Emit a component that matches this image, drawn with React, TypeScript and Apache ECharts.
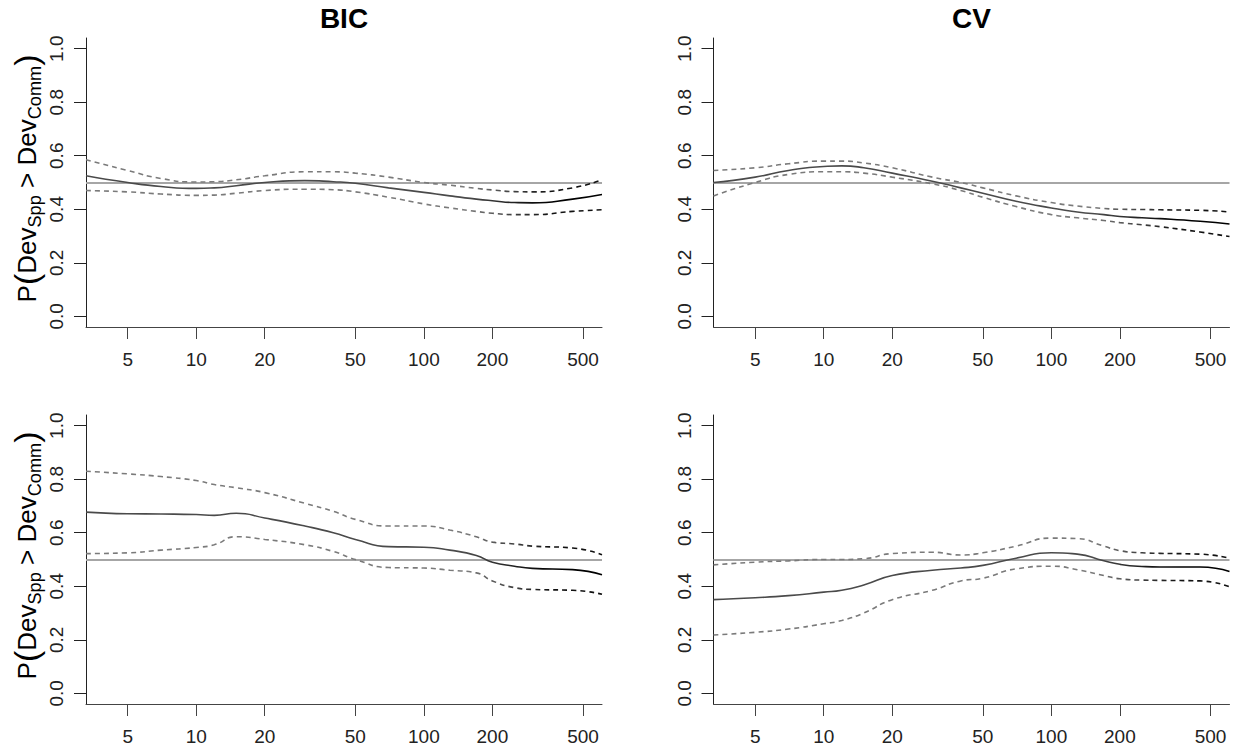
import React, { useEffect, useRef } from "react";
import * as echarts from "echarts";

// ---------- data ----------
const X_MIN = 3.28;
const X_MAX = 606;
const xs = [3.28, 5, 7, 10, 12, 15, 20, 30, 40, 50, 70, 100, 130, 170, 200, 250, 300, 450, 606];
const xTicks = [5, 10, 20, 50, 100, 200, 500];
const yTicks = [0, 0.2, 0.4, 0.6, 0.8, 1.0];
const REF = 0.5;

const bicTopMean = [0.525, 0.5, 0.485, 0.478, 0.48, 0.488, 0.5, 0.507, 0.503, 0.497, 0.48, 0.463, 0.45, 0.438, 0.432, 0.425, 0.424, 0.438, 0.455];
const bicTopUpper = [0.585, 0.545, 0.515, 0.502, 0.503, 0.51, 0.525, 0.54, 0.54, 0.535, 0.52, 0.5, 0.49, 0.478, 0.472, 0.466, 0.465, 0.48, 0.51];
const bicTopLower = [0.47, 0.465, 0.457, 0.452, 0.453, 0.46, 0.47, 0.475, 0.473, 0.465, 0.445, 0.42, 0.405, 0.392, 0.385, 0.38, 0.38, 0.392, 0.398];

const cvTopMean = [0.5, 0.52, 0.545, 0.56, 0.562, 0.555, 0.535, 0.505, 0.48, 0.46, 0.43, 0.405, 0.39, 0.38, 0.373, 0.368, 0.365, 0.355, 0.345];
const cvTopUpper = [0.545, 0.555, 0.57, 0.58, 0.58, 0.573, 0.555, 0.52, 0.5, 0.48, 0.45, 0.425, 0.412, 0.403, 0.4, 0.399, 0.398, 0.396, 0.39];
const cvTopLower = [0.45, 0.5, 0.53, 0.54, 0.54, 0.535, 0.52, 0.495, 0.47, 0.445, 0.41, 0.38, 0.368, 0.358, 0.35, 0.342, 0.335, 0.315, 0.298];

const bicBotMean = [0.677, 0.671, 0.67, 0.668, 0.665, 0.673, 0.655, 0.625, 0.6, 0.575, 0.548, 0.546, 0.535, 0.515, 0.49, 0.475, 0.467, 0.462, 0.443];
const bicBotUpper = [0.83, 0.82, 0.81, 0.795, 0.78, 0.768, 0.75, 0.71, 0.68, 0.65, 0.625, 0.625, 0.61, 0.585, 0.565, 0.558, 0.55, 0.543, 0.518];
const bicBotLower = [0.522, 0.525, 0.535, 0.545, 0.555, 0.585, 0.575, 0.555, 0.53, 0.5, 0.47, 0.468, 0.46, 0.45, 0.42, 0.395, 0.388, 0.385, 0.37];

const cvBotMean = [0.35, 0.357, 0.365, 0.378, 0.385, 0.405, 0.44, 0.46, 0.468, 0.478, 0.505, 0.525, 0.52, 0.495, 0.482, 0.474, 0.472, 0.472, 0.455];
const cvBotUpper = [0.48, 0.49, 0.495, 0.5, 0.5, 0.503, 0.522, 0.527, 0.517, 0.525, 0.55, 0.58, 0.578, 0.55, 0.533, 0.525, 0.523, 0.52, 0.505];
const cvBotLower = [0.218, 0.228, 0.24, 0.26, 0.272, 0.3, 0.35, 0.385, 0.42, 0.43, 0.465, 0.475, 0.462, 0.44, 0.428, 0.423, 0.422, 0.42, 0.398];

const titles = ["BIC", "CV"];

// ---------- layout ----------
const FONT = '"Liberation Sans", Arial, Helvetica, sans-serif';
const GRID_W = 516;
const GRID_H = 289;
const panels = [
  { left: 86, top: 38, mean: bicTopMean, upper: bicTopUpper, lower: bicTopLower, title: titles[0], ylab: true },
  { left: 713.5, top: 38, mean: cvTopMean, upper: cvTopUpper, lower: cvTopLower, title: titles[1], ylab: false },
  { left: 86, top: 415, mean: bicBotMean, upper: bicBotUpper, lower: bicBotLower, title: null, ylab: true },
  { left: 713.5, top: 415, mean: cvBotMean, upper: cvBotUpper, lower: cvBotLower, title: null, ylab: false },
];

const lg = (v: number) => Math.log10(v);

function measure(text: string, size: number): number {
  const c = document.createElement("canvas").getContext("2d");
  if (!c) return text.length * size * 0.55;
  c.font = `${size}px ${FONT}`;
  return c.measureText(text).width;
}

function yTitle(cx: number, cy: number) {
  const F = 26;
  const pieces = [
    { t: "P", s: F, dy: 0 },
    { t: "(", s: F * 1.3, dy: -1 },
    { t: "Dev", s: F, dy: 0 },
    { t: "Spp", s: F * 0.7, dy: F * 0.32 },
    { t: " > ", s: F, dy: 0 },
    { t: "Dev", s: F, dy: 0 },
    { t: "Comm", s: F * 0.7, dy: F * 0.32 },
    { t: ")", s: F * 1.3, dy: -1 },
  ];
  const widths = pieces.map((p) => measure(p.t, p.s));
  const total = widths.reduce((a, b) => a + b, 0);
  let cur = -total / 2;
  const children = pieces.map((p, i) => {
    const el = {
      type: "text",
      x: cur,
      y: p.dy,
      style: {
        text: p.t,
        font: `${p.s}px ${FONT}`,
        fill: "#000",
        textAlign: "left",
        align: "left",
        textVerticalAlign: "middle",
        verticalAlign: "middle",
      },
    };
    cur += widths[i];
    return el;
  });
  return { type: "group", x: cx, y: cy, rotation: Math.PI / 2, children };
}

function grad(from: string, to: string) {
  return new echarts.graphic.LinearGradient(0, 0, 1, 0, [
    { offset: 0, color: from },
    { offset: 0.74, color: from },
    { offset: 0.9, color: to },
    { offset: 1, color: to },
  ]);
}

export default function App() {
  const ref = useRef<HTMLDivElement>(null);
  useEffect(() => {
    if (!ref.current) return;
    const chart = echarts.init(ref.current, undefined, { renderer: "svg" });

    const grids = panels.map((p) => ({
      left: p.left,
      top: p.top,
      width: GRID_W,
      height: GRID_H,
      containLabel: false,
      outerBoundsMode: "none",
    }));

    const xAxes = panels.map((_, i) => ({
      gridIndex: i,
      type: "value",
      min: lg(X_MIN),
      max: lg(X_MAX),
      axisLine: { show: true, onZero: false, lineStyle: { color: "#444", width: 1 } },
      axisTick: { show: true, length: 12, customValues: xTicks.map(lg), lineStyle: { color: "#444", width: 1 } },
      axisLabel: {
        show: true,
        customValues: xTicks.map(lg),
        formatter: (v: number) => String(Math.round(Math.pow(10, v))),
        fontSize: 19,
        fontFamily: FONT,
        color: "#222",
        margin: 23,
      },
      splitLine: { show: false },
    }));

    const yAxes = panels.map((_, i) => ({
      gridIndex: i,
      type: "value",
      min: -0.04,
      max: 1.04,
      axisLine: { show: true, onZero: false, lineStyle: { color: "#222", width: 1 } },
      axisTick: { show: true, length: 12, customValues: yTicks, lineStyle: { color: "#222", width: 1 } },
      axisLabel: {
        show: true,
        customValues: yTicks,
        rotate: 90,
        formatter: (v: number) => v.toFixed(1),
        fontSize: 19,
        fontFamily: FONT,
        color: "#222",
        margin: 20,
      },
      splitLine: { show: false },
    }));

    const series: any[] = [];
    panels.forEach((p, i) => {
      const mk = (arr: number[]) => xs.map((x, j) => [lg(x), arr[j]]);
      series.push({
        type: "line",
        xAxisIndex: i,
        yAxisIndex: i,
        data: mk(p.mean),
        smooth: 0.55,
        symbol: "none",
        z: 3,
        lineStyle: { color: grad("#4a4a4a", "#000"), width: 1.6, type: "solid" },
        markLine: {
          silent: true,
          symbol: "none",
          z: 1,
          label: { show: false },
          lineStyle: { color: "#a6a6a6", width: 2.2, type: "solid" },
          data: [{ yAxis: REF }],
        },
      });
      [p.upper, p.lower].forEach((arr) => {
        series.push({
          type: "line",
          xAxisIndex: i,
          yAxisIndex: i,
          data: mk(arr),
          smooth: 0.55,
          symbol: "none",
          z: 3,
          lineStyle: { color: grad("#7a7a7a", "#111"), width: 1.6, type: [5, 4] },
        });
      });
    });

    const graphics: any[] = [];
    panels.forEach((p) => {
      if (p.title) {
        graphics.push({
          type: "text",
          x: p.left + GRID_W / 2,
          y: 18,
          style: {
            text: p.title,
            font: `bold 28px ${FONT}`,
            fill: "#000",
            textAlign: "center",
            align: "center",
            textVerticalAlign: "middle",
            verticalAlign: "middle",
          },
        });
      }
      if (p.ylab) graphics.push(yTitle(27, p.top + GRID_H / 2 - 4));
    });

    chart.setOption({
      animation: false,
      backgroundColor: "#fff",
      grid: grids,
      xAxis: xAxes,
      yAxis: yAxes,
      series,
      graphic: graphics,
    });
    return () => chart.dispose();
  }, []);
  return <div ref={ref} style={{ position: "absolute", left: 0, top: 0, width: 1235, height: 750 }} />;
}
